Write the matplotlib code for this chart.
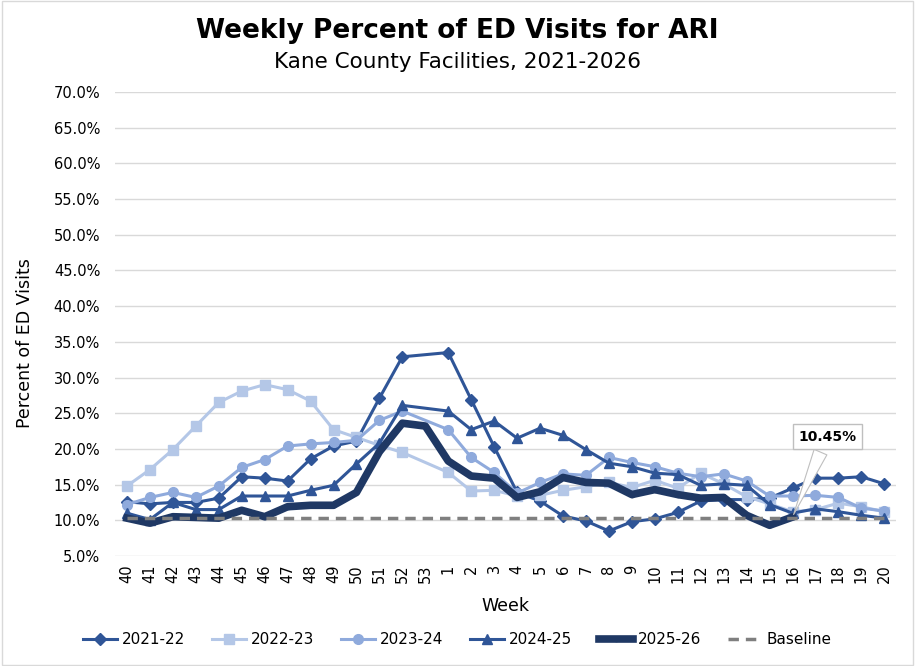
import numpy as np
import matplotlib.pyplot as plt
from matplotlib.patches import Rectangle

nan = np.nan

# MMWR weeks shown on the x axis (season runs week 40 through week 20)
weeks = [str(w) for w in list(range(40, 54)) + list(range(1, 21))]

# weekly percent of ED visits for ARI, by season (week 53 only in 2025-26)
s2021 = [12.6, 12.3, 12.5, 12.5, 13.1, 16.1, 15.9, 15.5, 18.6, 20.4, 21.1, 27.1, 32.9, nan,
         33.5, 26.9, 20.3, 13.9, 12.7, 10.6, 9.9, 8.5, 9.8, 10.2, 11.1, 12.7, 12.9, 12.9,
         13.1, 14.5, 15.9, 15.9, 16.1, 15.1]
s2022 = [14.8, 17.1, 19.9, 23.2, 26.5, 28.1, 29.0, 28.3, 26.7, 22.7, 21.6, 20.5, 19.5, nan,
         16.7, 14.1, 14.2, 13.4, 13.5, 14.2, 14.7, 15.3, 14.6, 15.6, 14.5, 16.6, 15.1, 13.3,
         12.3, 11.2, 11.5, 12.4, 11.9, 11.2]
s2023 = [12.2, 13.2, 13.9, 13.2, 14.8, 17.4, 18.5, 20.4, 20.7, 20.9, 21.2, 24.0, 25.3, nan,
         22.7, 18.8, 16.7, 13.8, 15.3, 16.5, 16.3, 18.8, 18.1, 17.5, 16.6, 16.1, 16.5, 15.5,
         13.4, 13.4, 13.5, 13.2, 11.7, 11.3]
s2024 = [11.0, 10.1, 12.5, 11.5, 11.5, 13.4, 13.4, 13.4, 14.2, 14.9, 17.9, 20.8, 26.1, nan,
         25.3, 22.7, 23.9, 21.5, 22.9, 21.9, 19.9, 18.0, 17.5, 16.6, 16.4, 14.9, 15.1, 14.9,
         12.2, 11.0, 11.6, 11.2, 10.7, 10.3]
s2025 = [10.3, 9.6, 10.5, 10.4, 10.3, 11.4, 10.5, 11.9, 12.1, 12.1, 13.9, 19.6, 23.6, 23.2,
         18.3, 16.2, 15.9, 13.2, 14.0, 16.0, 15.3, 15.2, 13.6, 14.3, 13.6, 13.1, 13.2, 10.7,
         9.3, 10.45, nan, nan, nan, nan]
baseline = 10.35

series = [
    ("2021-22", s2021, "#2F5597", "D", 2.2, 6),
    ("2022-23", s2022, "#B4C7E7", "s", 2.2, 7),
    ("2023-24", s2023, "#8FAADC", "o", 2.2, 7),
    ("2024-25", s2024, "#2F5597", "^", 2.2, 7),
    ("2025-26", s2025, "#1F3864", "o", 5.5, 3),
]

fig = plt.figure(figsize=(9.15, 6.66), dpi=100)
ax = fig.add_axes([0.1262, 0.1652, 0.8528, 0.6967])

x = np.arange(len(weeks))
for name, vals, color, marker, lw, ms in series:
    y = np.array(vals, dtype=float)
    ok = ~np.isnan(y)
    ax.plot(x[ok], y[ok], color=color, lw=lw, marker=marker, ms=ms,
            label=name, zorder=3 if name != "2025-26" else 4)

ax.plot(x, [baseline] * len(x), color="#7F7F7F", lw=2.5, ls=(0, (3, 2)),
        label="Baseline", zorder=5)

# callout for the latest value
last = np.where(~np.isnan(s2025))[0][-1]
ax.annotate(f"{s2025[last]:.2f}%", xy=(last, s2025[last]), xytext=(25, 58),
            textcoords="offset points", ha="center", va="center",
            fontsize=10, fontweight="bold",
            bbox=dict(boxstyle="square,pad=0.4", fc="white", ec="#BFBFBF", lw=1),
            arrowprops=dict(arrowstyle="wedge,tail_width=1.0,shrink_factor=0.5",
                            fc="white", ec="#BFBFBF", lw=0.8),
            zorder=6)

ax.set_xlim(-0.5, len(weeks) - 0.5)
ax.set_ylim(5, 70)
ax.set_yticks(np.arange(5, 70.1, 5))
ax.set_yticklabels([f"{v:.1f}%" for v in np.arange(5, 70.1, 5)], fontsize=10.5)
ax.set_xticks(x)
ax.set_xticklabels(weeks, rotation=90, fontsize=10.5)
ax.tick_params(axis="x", length=0, pad=6)
ax.tick_params(axis="y", length=0, pad=11)
ax.grid(axis="y", color="#D9D9D9", lw=1)
ax.set_axisbelow(True)
for sp in ax.spines.values():
    sp.set_visible(False)

ax.set_xlabel("Week", fontsize=12.5, labelpad=10)
fig.text(0.027, 0.485, "Percent of ED Visits", rotation=90, fontsize=12.5,
         ha="center", va="center")

fig.text(0.5, 1 - 31 / 666, "Weekly Percent of ED Visits for ARI", fontsize=19,
         fontweight="bold", ha="center", va="center")
fig.text(0.5, 1 - 62 / 666, "Kane County Facilities, 2021-2026", fontsize=15.5,
         ha="center", va="center")

fig.legend(loc="center", bbox_to_anchor=(0.5, 1 - 640 / 666), ncol=6, frameon=False,
           fontsize=11, handlelength=2.2, columnspacing=1.8, handletextpad=0.3)

fig.patches.append(Rectangle((0.002, 0.002), 0.996, 0.996, transform=fig.transFigure,
                             fill=False, ec="#D9D9D9", lw=1))

fig.savefig("out.png", dpi=100)
